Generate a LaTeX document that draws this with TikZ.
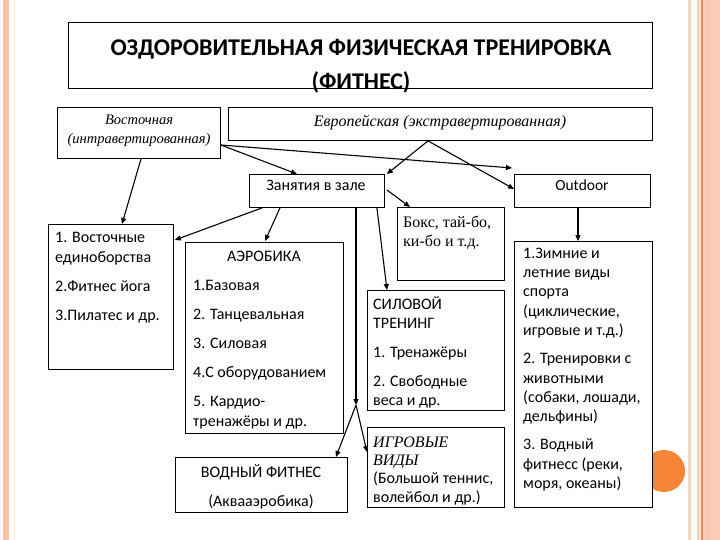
\documentclass[tikz,border=0pt]{standalone}
\usepackage{fontspec}
\setmainfont{Carlito}
\newfontfamily\tms{Liberation Serif}
\usetikzlibrary{arrows.meta,calc}
\definecolor{salmon}{RGB}{253,202,182}
\definecolor{pinkL}{RGB}{252,192,170}
\definecolor{creamL}{RGB}{253,246,226}
\definecolor{tanL}{RGB}{238,218,200}
\definecolor{tanM}{RGB}{236,210,190}
\definecolor{orLine}{RGB}{236,140,100}
\definecolor{dotOr}{RGB}{245,133,52}
\newcommand{\fb}{\rule{0pt}{16pt}}
\begin{document}
\begin{tikzpicture}[x=1pt,y=-1pt,
  box/.style={draw=black,line width=0.9pt,fill=white,inner sep=0pt,anchor=north west},
  txt/.style={anchor=north west,inner sep=0pt,align=left,font=\fontsize{16}{19.5}\selectfont},
  ctxt/.style={anchor=base,inner sep=0pt,align=center,font=\fontsize{16}{19.5}\selectfont},
  ntxt/.style={anchor=north,inner sep=0pt,align=center},
  conn/.style={line width=1.1pt,-{Triangle[length=6pt,width=5pt]}},
]
\path[use as bounding box,fill=white] (0,0) rectangle (720,540);
% side decorations
\fill[pinkL] (3,0) rectangle (9,540);
\fill[creamL] (12.5,0) rectangle (14.5,540);
\fill[tanL] (688,0) rectangle (691,540);
\fill[creamL!50!white] (691,0) rectangle (697,540);
\fill[tanM] (697,0) rectangle (699,540);
\fill[salmon!60!white] (699,0) rectangle (701,540);
\fill[orLine] (701,0) rectangle (703,540);
\fill[salmon] (703,0) rectangle (720,540);
\fill[pinkL!90!salmon] (707.5,0) rectangle (708.5,540);
\fill[dotOr] (664,471) circle (21);

% boxes
\node[box,minimum width=584pt,minimum height=66pt] (title) at (68,22) {};
\node[box,minimum width=163pt,minimum height=51pt] (vost) at (57,107) {};
\node[box,minimum width=424pt,minimum height=33pt] (evr) at (228,107) {};
\node[box,minimum width=135pt,minimum height=33pt] (zan) at (249,174) {};
\node[box,minimum width=136pt,minimum height=33pt] (outd) at (514,174) {};
\node[box,minimum width=125pt,minimum height=145pt] (vostb) at (48,224) {};
\node[box,minimum width=158pt,minimum height=191pt] (aer) at (185,242) {};
\node[box,minimum width=172pt,minimum height=55pt] (vod) at (175,457) {};
\node[box,minimum width=107pt,minimum height=73pt] (boks) at (397,207) {};
\node[box,minimum width=137pt,minimum height=120pt] (sil) at (367,290) {};
\node[box,minimum width=137pt,minimum height=80pt] (igr) at (367,427) {};
\node[box,minimum width=138pt,minimum height=266pt] (outc) at (514,241) {};

% texts (multi-line nodes: top = first baseline - 16)
\node[anchor=base,inner sep=0pt,font=\bfseries\fontsize{24}{24}\selectfont] (ttl1) at (361,56) {ОЗДОРОВИТЕЛЬНАЯ ФИЗИЧЕСКАЯ ТРЕНИРОВКА};
\node[anchor=base,inner sep=0pt,font=\bfseries\fontsize{24}{24}\selectfont] (ttl2) at (361,90) {(ФИТНЕС)};
\node[ntxt,font=\tms\itshape\fontsize{14.5}{19.5}\selectfont] (tvost) at (139,108) {\fb Восточная\\(интравертированная)};
\node[anchor=base,inner sep=0pt,font=\tms\itshape\fontsize{16}{16}\selectfont] (tevr) at (440,127) {Европейская (экстравертированная)};
\node[ctxt] (tzan) at (316,191) {Занятия в зале};
\node[ctxt,font=\fontsize{15.5}{19}\selectfont] (toutd) at (582,191) {Outdoor};
\node[txt,font=\fontsize{16}{20}\selectfont] (tvostb) at (55,226) {\fb 1. Восточные\\единоборства\\[9pt]2.Фитнес йога\\[9pt]3.Пилатес и др.};
\node[ctxt] (taer1) at (264,261) {АЭРОБИКА};
\node[txt,font=\fontsize{16}{20}\selectfont] (taer2) at (193,274) {\fb 1.Базовая\\[9pt]2. Танцевальная\\[9pt]3. Силовая\\[9pt]4.С оборудованием\\[9pt]5. Кардио-\\тренажёры и др.};
\node[ntxt,font=\fontsize{16}{29}\selectfont] (tvod) at (261,461) {\fb ВОДНЫЙ ФИТНЕС\\(Аквааэробика)};
\node[txt,font=\tms\fontsize{16}{19}\selectfont] (tboks) at (403,211) {\fb Бокс, тай-бо,\\ки-бо и т.д.};
\node[txt,font=\fontsize{16}{19}\selectfont] (tsil) at (373,293) {\fb СИЛОВОЙ\\ТРЕНИНГ\\[10pt]1. Тренажёры\\[10pt]2. Свободные\\веса и др.};
\node[txt,font=\tms\itshape\fontsize{16}{18}\selectfont] (tigr1) at (373,431) {\fb ИГРОВЫЕ\\ВИДЫ};
\node[txt,font=\fontsize{16}{19}\selectfont] (tigr2) at (373,467) {\fb (Большой теннис,\\волейбол и др.)};
\node[txt,font=\fontsize{16}{19.3}\selectfont] (toutc) at (523,242) {\fb 1.Зимние и\\летние виды\\спорта\\(циклические,\\игровые и т.д.)\\[9pt]2. Тренировки с\\животными\\(собаки, лошади,\\дельфины)\\[9pt]3. Водный\\фитнесс (реки,\\моря, океаны)};

% connectors
\coordinate (jn) at (356,405);
\draw[conn] ($(vost.south west)+(84,0)$) -- ($(vostb.north west)+(74,0)$);
\draw[conn] ($(vost.north east)+(0,38)$) -- ($(zan.north west)+(48,0)$);
\draw[conn] ($(vost.north east)+(0,38)$) -- ($(outd.north west)+(-2,-6)$);
\draw[conn] ($(evr.south west)+(200,0)$) -- ($(zan.north east)+(2,0)$);
\draw[conn] ($(evr.south west)+(200,0)$) -- ($(outd.north west)+(0,15)$);
\draw[conn] ($(zan.north east)+(2,16)$) -- ($(boks.north west)+(13,0)$);
\draw[conn] ($(zan.south east)+(-8,0)$) -- ($(sil.north west)+(20,0)$);
\draw[conn] ($(zan.south west)+(13,0)$) -- ($(vostb.north east)+(1,16)$);
\draw[conn] ($(zan.south west)+(31,0)$) -- ($(aer.north west)+(80,-1)$);
\draw[conn] ($(zan.south west)+(107,0)$) -- (jn);
\draw[conn] (jn) -- ($(vod.north east)+(-12,0)$);
\draw[conn] (jn) -- ($(igr.north west)+(0,25)$);
\draw[conn] ($(outd.south west)+(64,0)$) -- ($(outc.north west)+(64,0)$);
\end{tikzpicture}
\end{document}
